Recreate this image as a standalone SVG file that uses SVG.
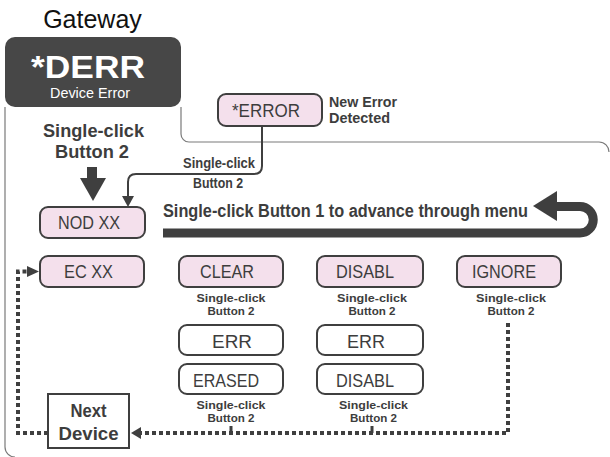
<svg xmlns="http://www.w3.org/2000/svg" width="610" height="457" viewBox="0 0 610 457">
<style>
  text { font-family: "Liberation Sans", Arial, sans-serif; fill: #3d3d3d; }
  .lbl { font-size: 18px; text-anchor: middle; }
  .cap { font-size: 11.5px; font-weight: bold; text-anchor: middle; }
  .pink { fill: #f4e0ec; stroke: #3f3f3f; stroke-width: 2; }
  .white { fill: #ffffff; stroke: #3f3f3f; stroke-width: 2; }
  .frame { fill: none; stroke: #7a7a7a; stroke-width: 1.2; }
  .thin { fill: none; stroke: #3f3f3f; stroke-width: 2; }
  .dot { fill: none; stroke: #3f3f3f; stroke-width: 4; stroke-dasharray: 4 3; }
  .head { fill: #3f3f3f; }
</style>
<rect width="610" height="457" fill="#ffffff"/>

<g id="frame">
  <path class="frame" d="M5,107 V447 A10,10 0 0 0 15,457"/>
  <path class="frame" d="M181,107 V134 A8,8 0 0 0 189,142 H599 A10,10 0 0 1 609,152"/>
</g>

<text x="92.5" y="28" style="font-size:25px;fill:#111;text-anchor:middle">Gateway</text>

<g id="gateway-derr">
  <rect x="5" y="37" width="176" height="70" rx="10" fill="#474747"/>
  <text x="31" y="78" textLength="114" lengthAdjust="spacingAndGlyphs" style="font-size:32px;font-weight:bold;fill:#fff">*DERR</text>
  <text x="90" y="98" textLength="80" lengthAdjust="spacingAndGlyphs" style="font-size:15px;fill:#fff;text-anchor:middle">Device Error</text>
</g>

<g id="label-top">
  <text x="93.5" y="137" textLength="101" lengthAdjust="spacingAndGlyphs" style="font-size:19px;font-weight:bold;text-anchor:middle">Single-click</text>
  <text x="92" y="158" textLength="74" lengthAdjust="spacingAndGlyphs" style="font-size:19px;font-weight:bold;text-anchor:middle">Button 2</text>
</g>

<g id="connectors">
  <rect x="87" y="167" width="10" height="12" class="head"/>
  <polygon class="head" points="80,178 106,178 93,201"/>
  <path class="thin" d="M262,126 V166 Q262,174 254,174 H136 Q128,174 128,182 V197"/>
  <polygon class="head" points="122,196 134,196 128,207"/>
  <path d="M163,233 H580 A13.25,13.25 0 0 0 580,206.5 H555" fill="none" stroke="#3f3f3f" stroke-width="9"/>
  <polygon class="head" points="533,206 557,191 557,221"/>
  <path class="dot" d="M48,433 H18 V271.5 H28"/>
  <polygon class="head" points="27,266 27,277 39,271.5"/>
  <path class="dot" d="M508,323 V433 H140"/>
  <polygon class="head" points="141,427 141,439 131,433"/>
  <line x1="231" y1="426" x2="231" y2="433" stroke="#3f3f3f" stroke-width="3"/>
  <line x1="372" y1="426" x2="372" y2="433" stroke="#3f3f3f" stroke-width="3"/>
</g>

<g id="connector-labels">
  <text x="255" y="168" textLength="72" lengthAdjust="spacingAndGlyphs" style="font-size:14px;font-weight:bold;text-anchor:end">Single-click</text>
  <text x="218" y="188" textLength="50" lengthAdjust="spacingAndGlyphs" style="font-size:14px;font-weight:bold;text-anchor:middle">Button 2</text>
  <text x="163" y="217" textLength="365" lengthAdjust="spacingAndGlyphs" style="font-size:18px;font-weight:bold">Single-click Button 1 to advance through menu</text>
</g>

<g id="node-error">
  <rect class="pink" x="218" y="94" width="104" height="32" rx="8"/>
  <text class="lbl" x="266" y="117" textLength="68" lengthAdjust="spacingAndGlyphs">*ERROR</text>
  <text x="329" y="107" textLength="68" lengthAdjust="spacingAndGlyphs" style="font-size:15px;font-weight:bold">New Error</text>
  <text x="329" y="123" textLength="61" lengthAdjust="spacingAndGlyphs" style="font-size:15px;font-weight:bold">Detected</text>
</g>

<g id="node-nod">
  <rect class="pink" x="40" y="207" width="105" height="31" rx="8"/>
  <text class="lbl" x="89" y="229" textLength="62" lengthAdjust="spacingAndGlyphs">NOD XX</text>
</g>

<g id="node-ec">
  <rect class="pink" x="40" y="256" width="104" height="31" rx="8"/>
  <text class="lbl" x="88.5" y="278" textLength="49" lengthAdjust="spacingAndGlyphs">EC XX</text>
</g>

<g id="node-clear">
  <rect class="pink" x="179" y="256" width="104" height="31" rx="8"/>
  <text class="lbl" x="227" y="278" textLength="54" lengthAdjust="spacingAndGlyphs">CLEAR</text>
  <text class="cap" x="231" y="302" textLength="69" lengthAdjust="spacingAndGlyphs">Single-click</text>
  <text class="cap" x="231" y="315" textLength="47" lengthAdjust="spacingAndGlyphs">Button 2</text>
</g>

<g id="node-disabl">
  <rect class="pink" x="317" y="256" width="106" height="31" rx="8"/>
  <text class="lbl" x="365" y="278" textLength="58" lengthAdjust="spacingAndGlyphs">DISABL</text>
  <text class="cap" x="372" y="302" textLength="70" lengthAdjust="spacingAndGlyphs">Single-click</text>
  <text class="cap" x="372" y="315" textLength="47" lengthAdjust="spacingAndGlyphs">Button 2</text>
</g>

<g id="node-ignore">
  <rect class="pink" x="457" y="256" width="104" height="31" rx="8"/>
  <text class="lbl" x="504" y="278" textLength="64" lengthAdjust="spacingAndGlyphs">IGNORE</text>
  <text class="cap" x="511" y="302" textLength="70" lengthAdjust="spacingAndGlyphs">Single-click</text>
  <text class="cap" x="511" y="315" textLength="47" lengthAdjust="spacingAndGlyphs">Button 2</text>
</g>

<g id="node-err1">
  <rect class="white" x="179" y="325" width="104" height="30" rx="8"/>
  <text class="lbl" x="232" y="348" textLength="40" lengthAdjust="spacingAndGlyphs">ERR</text>
</g>

<g id="node-erased">
  <rect class="white" x="179" y="364" width="104" height="30" rx="8"/>
  <text class="lbl" x="226" y="387" textLength="66" lengthAdjust="spacingAndGlyphs">ERASED</text>
  <text class="cap" x="231" y="409" textLength="69" lengthAdjust="spacingAndGlyphs">Single-click</text>
  <text class="cap" x="231" y="422" textLength="47" lengthAdjust="spacingAndGlyphs">Button 2</text>
</g>

<g id="node-err2">
  <rect class="white" x="317" y="325" width="106" height="30" rx="8"/>
  <text class="lbl" x="366" y="348" textLength="38" lengthAdjust="spacingAndGlyphs">ERR</text>
</g>

<g id="node-disabl2">
  <rect class="white" x="317" y="364" width="106" height="30" rx="8"/>
  <text class="lbl" x="365" y="387" textLength="58" lengthAdjust="spacingAndGlyphs">DISABL</text>
  <text class="cap" x="373.5" y="409" textLength="69" lengthAdjust="spacingAndGlyphs">Single-click</text>
  <text class="cap" x="373.5" y="422" textLength="47" lengthAdjust="spacingAndGlyphs">Button 2</text>
</g>

<g id="node-next">
  <rect x="48" y="394" width="81" height="54" fill="#fff" stroke="#3f3f3f" stroke-width="2"/>
  <text x="88.5" y="417" textLength="36" lengthAdjust="spacingAndGlyphs" style="font-size:18px;font-weight:bold;text-anchor:middle">Next</text>
  <text x="88.5" y="440" textLength="60" lengthAdjust="spacingAndGlyphs" style="font-size:18px;font-weight:bold;text-anchor:middle">Device</text>
</g>
</svg>
